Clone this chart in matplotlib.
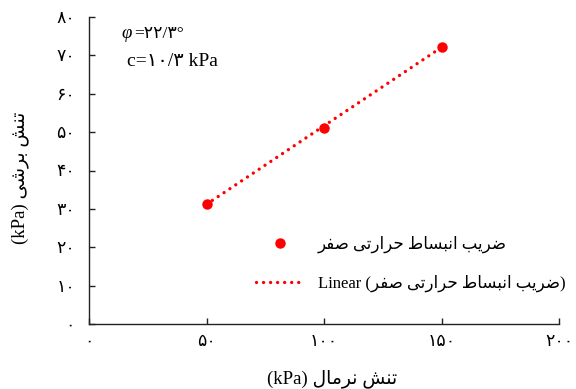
import matplotlib
matplotlib.use('Agg')
import numpy as np
import matplotlib.pyplot as plt
from matplotlib import font_manager, ft2font

# ---- data ----
normal_stress = [50, 100, 150]
shear_stress = [31.4, 51.2, 72.3]
x_ticks = [0, 50, 100, 150, 200]
x_tick_labels = ['۰', '۵۰', '۱۰۰', '۱۵۰', '۲۰۰']
y_ticks = [0, 10, 20, 30, 40, 50, 60, 70, 80]
y_tick_labels = ['۰', '۱۰', '۲۰', '۳۰', '۴۰', '۵۰', '۶۰', '۷۰', '۸۰']
series_name = 'ضریب انبساط حرارتی صفر'
x_label_fa = 'تنش نرمال'
y_label_fa = 'تنش برشی'
phi_value = '۲۲/۳'
c_value = '۱۰/۳'

FAM = ['Liberation Serif', 'DejaVu Sans']

# ---- minimal Arabic/Persian shaping (presentation forms, visual order) ----
dv = ft2font.FT2Font(font_manager.findfont(font_manager.FontProperties(family='DejaVu Sans')))
cmap = dv.get_charmap()
if all(c in cmap for c in (0xFBFC, 0xFBFD, 0xFBFE, 0xFBFF)):
    YEH = (0xFBFC, 0xFBFD, 0xFBFE, 0xFBFF)
else:
    YEH = (0xFEEF, 0xFEF0, 0xFEF3, 0xFEF4)
FORMS = {
    'ا': (0xFE8D, 0xFE8E, None, None),
    'ر': (0xFEAD, 0xFEAE, None, None),
    'ب': (0xFE8F, 0xFE90, 0xFE91, 0xFE92),
    'ت': (0xFE95, 0xFE96, 0xFE97, 0xFE98),
    'ح': (0xFEA1, 0xFEA2, 0xFEA3, 0xFEA4),
    'س': (0xFEB1, 0xFEB2, 0xFEB3, 0xFEB4),
    'ش': (0xFEB5, 0xFEB6, 0xFEB7, 0xFEB8),
    'ص': (0xFEB9, 0xFEBA, 0xFEBB, 0xFEBC),
    'ض': (0xFEBD, 0xFEBE, 0xFEBF, 0xFEC0),
    'ط': (0xFEC1, 0xFEC2, 0xFEC3, 0xFEC4),
    'ف': (0xFED1, 0xFED2, 0xFED3, 0xFED4),
    'ل': (0xFEDD, 0xFEDE, 0xFEDF, 0xFEE0),
    'م': (0xFEE1, 0xFEE2, 0xFEE3, 0xFEE4),
    'ن': (0xFEE5, 0xFEE6, 0xFEE7, 0xFEE8),
    'ی': YEH,
}


def shape(s):
    out = []
    n = len(s)
    for i, ch in enumerate(s):
        if ch not in FORMS:
            out.append(ch)
            continue
        iso, fin, ini, med = FORMS[ch]
        prev = s[i - 1] if i > 0 else None
        nxt = s[i + 1] if i < n - 1 else None
        jp = prev in FORMS and FORMS[prev][2] is not None
        jn = nxt in FORMS and ini is not None
        if jp and jn:
            c = med
        elif jp:
            c = fin
        elif jn:
            c = ini
        else:
            c = iso
        out.append(chr(c))
    return ''.join(reversed(out))


W, H = 576, 389
fig = plt.figure(figsize=(W / 100, H / 100), dpi=100)
ax = fig.add_axes([89 / W, 1 - 324 / H, (559 - 89) / W, (324 - 17) / H])

red = '#FF0000'
slope, intercept = np.polyfit(normal_stress, shear_stress, 1)
xf = np.array([normal_stress[0], normal_stress[-1]])
ax.plot(normal_stress, shear_stress, 'o', color=red, markersize=6.5,
        label=shape(series_name), zorder=3)
ax.plot(xf, slope * xf + intercept, color=red, lw=2.4,
        linestyle=(0, (0.01, 2.1)), dash_capstyle='round',
        label='Linear (' + shape(series_name) + ')', zorder=2)

ax.set_xlim(0, 200)
ax.set_ylim(0, 80)
ax.set_xticks(x_ticks)
ax.set_xticklabels(x_tick_labels, family=FAM, fontsize=12.5)
ax.set_yticks(y_ticks)
ax.set_yticklabels(y_tick_labels, family=FAM, fontsize=12.5)
ax.tick_params(axis='both', direction='in', length=4, width=1, color='#222222')
ax.tick_params(axis='x', pad=7)
ax.tick_params(axis='y', pad=10)
for sp in ('top', 'right'):
    ax.spines[sp].set_visible(False)
for sp in ('left', 'bottom'):
    ax.spines[sp].set_linewidth(1.0)
    ax.spines[sp].set_color('#222222')

fig.text(332 / W, 1 - 379 / H, '(kPa) ' + shape(x_label_fa), family=FAM,
         fontsize=13.5, ha='center', va='center')
fig.text(20 / W, 1 - 178 / H, '(kPa) ' + shape(y_label_fa), family=FAM,
         fontsize=13.5, ha='center', va='center', rotation=90)

fig.text(121 / W, 1 - 34 / H, 'φ', family=FAM, fontstyle='italic',
         fontsize=13.5, ha='left', va='center')
fig.text(134 / W, 1 - 34 / H, '=' + phi_value + '°', family=FAM,
         fontsize=12.5, ha='left', va='center')
fig.text(127 / W, 1 - 61 / H, 'c=' + c_value + ' kPa', family=FAM,
         fontsize=14, ha='left', va='center')

leg = ax.legend(loc='upper left', bbox_to_anchor=(256 / W, 1 - 236 / H),
                bbox_transform=fig.transFigure, frameon=False,
                prop=font_manager.FontProperties(family=FAM, size=12),
                handlelength=2.9, handletextpad=0.8, labelspacing=1.3,
                borderpad=0, borderaxespad=0)

fig.savefig('out.png', dpi=100)
